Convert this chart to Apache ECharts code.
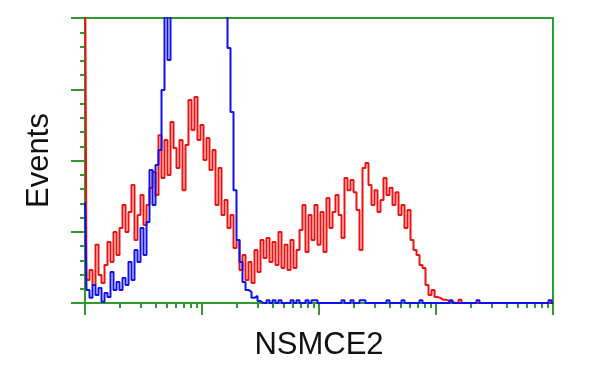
<!DOCTYPE html>
<html>
<head>
<meta charset="utf-8">
<script src="https://cdn.jsdelivr.net/npm/echarts@6/dist/echarts.min.js"></script>
<style>html,body{margin:0;padding:0;background:#fff}#c{width:600px;height:375px}</style>
</head>
<body>
<div id="c"></div>
<script>
// Histogram channel bins (ordinal)
var redCounts = [130,8.1,11.6,6.3,20.4,9.8,7.0,13.3,21.4,14.4,24.9,16.8,26.3,34.4,24.9,31.9,41.4,22.1,30.9,37.9,
 27.4,34.4,40.4,46.0,37.9,58.9,43.9,57.2,44.9,63.5,54.4,47.4,57.2,39.6,55.4,71.2,60.7,72.3,57.2,62.5,
 50.2,57.9,46.7,53.7,34.4,47.4,30.9,36.1,26.3,30.9,19.3,22.1,11.6,16.8,8.1,14.4,7.0,18.6,10.9,22.1,
 15.8,22.8,14.4,21.4,13.3,24.9,12.3,20.4,11.6,22.1,12.3,18.6,25.6,34.4,17.9,30.9,22.1,34.4,20.4,31.9,
 17.9,36.8,26.3,31.9,37.9,30.9,22.8,43.9,39.6,43.2,38.9,32.6,18.6,47.4,49.1,41.4,34.4,39.6,31.9,36.1,
 43.9,37.9,40.4,34.4,38.9,30.9,34.4,26.3,32.6,22.1,18.6,16.8,13.3,12.3,6.3,2.8,4.6,2.1,1.8,1.1,
 1.1,0.7,0.4,0,0,1.1,0,0,0,0,0,0,0,0,0,0,0,0,0,0,
 0,0,0,0,0,0,0,0,0,0,0,0,0,0,0,0,0];
var blueCounts = [35.4,4.6,1.8,6.3,2.8,5.3,0.4,3.5,2.1,10.9,4.6,7.4,4.6,8.8,6.3,14.4,8.1,18.6,14.4,26.3,
 16.8,28.4,46.7,34.4,48.4,53.7,74.7,130,85.3,130,130,130,130,130,130,130,130,130,130,130,
 130,130,130,130,130,130,130,110,89.5,67,39.6,22.1,14.4,7.4,4.6,3.9,1.8,2.5,0.7,0,
 0,1,0,1,0,1,0,0,0,1,0,1,0,0,1,0,1,1,0,0,
 0,0,0,0,0,0,1,0,0,1,0,0,1,1,0,0,0,0,0,0,
 0,1,0,0,0,0,1,0,0,0,0,0,1,0,0,0,0,0,0,0,
 0,0,1,0,0,0,0,0,0,0,0,1,0,0,0,0,0,0,0,0,
 0,0,0,0,0,0,0,0,0,0,0,0,0,0,0,1,0];
var channels = redCounts.map(function(_, i){ return String(i); });
var yMax = 100, yStep = 25;
var xDecadeMin = 1, xDecadeMax = 10000;
var xName = 'NSMCE2', yName = 'Events';

var green = '#2f9a2f';
var chart = echarts.init(document.getElementById('c'));
chart.setOption({
  animation: false,
  grid: { left: 85, right: 47, top: 18, bottom: 72, show: true, borderColor: green, borderWidth: 2, backgroundColor: '#fff' },
  xAxis: [
    { type: 'category', data: channels, boundaryGap: false, show: false },
    { type: 'log', min: xDecadeMin, max: xDecadeMax, logBase: 10, position: 'bottom',
      name: xName, nameLocation: 'middle', nameGap: 27,
      nameTextStyle: { fontFamily: 'Liberation Sans', fontSize: 31, color: '#111' },
      axisLine: { show: true, lineStyle: { color: green, width: 2 } },
      axisTick: { show: true, length: 12, lineStyle: { color: green, width: 2 } },
      minorTick: { show: true, splitNumber: 9, length: 5, lineStyle: { color: green, width: 2 } },
      axisLabel: { show: false }, splitLine: { show: false }, minorSplitLine: { show: false } }
  ],
  yAxis: {
    type: 'value', min: 0, max: yMax, interval: yStep,
    name: yName, nameLocation: 'middle', nameRotate: 90, nameGap: 30,
    nameTextStyle: { fontFamily: 'Liberation Sans', fontSize: 31, color: '#111' },
    axisLine: { show: true, lineStyle: { color: green, width: 2 } },
    axisTick: { show: true, length: 14, lineStyle: { color: green, width: 2 } },
    minorTick: { show: true, splitNumber: 5, length: 5, lineStyle: { color: green, width: 2 } },
    axisLabel: { show: false }, splitLine: { show: false }
  },
  series: [
    { type: 'line', xAxisIndex: 0, data: redCounts, step: 'middle', showSymbol: false, clip: true,
      lineStyle: { color: '#ee1111', width: 2 }, z: 2 },
    { type: 'line', xAxisIndex: 0, data: blueCounts, step: 'middle', showSymbol: false, clip: true,
      lineStyle: { color: '#1010ee', width: 2 }, z: 3 }
  ]
});
</script>
</body>
</html>
